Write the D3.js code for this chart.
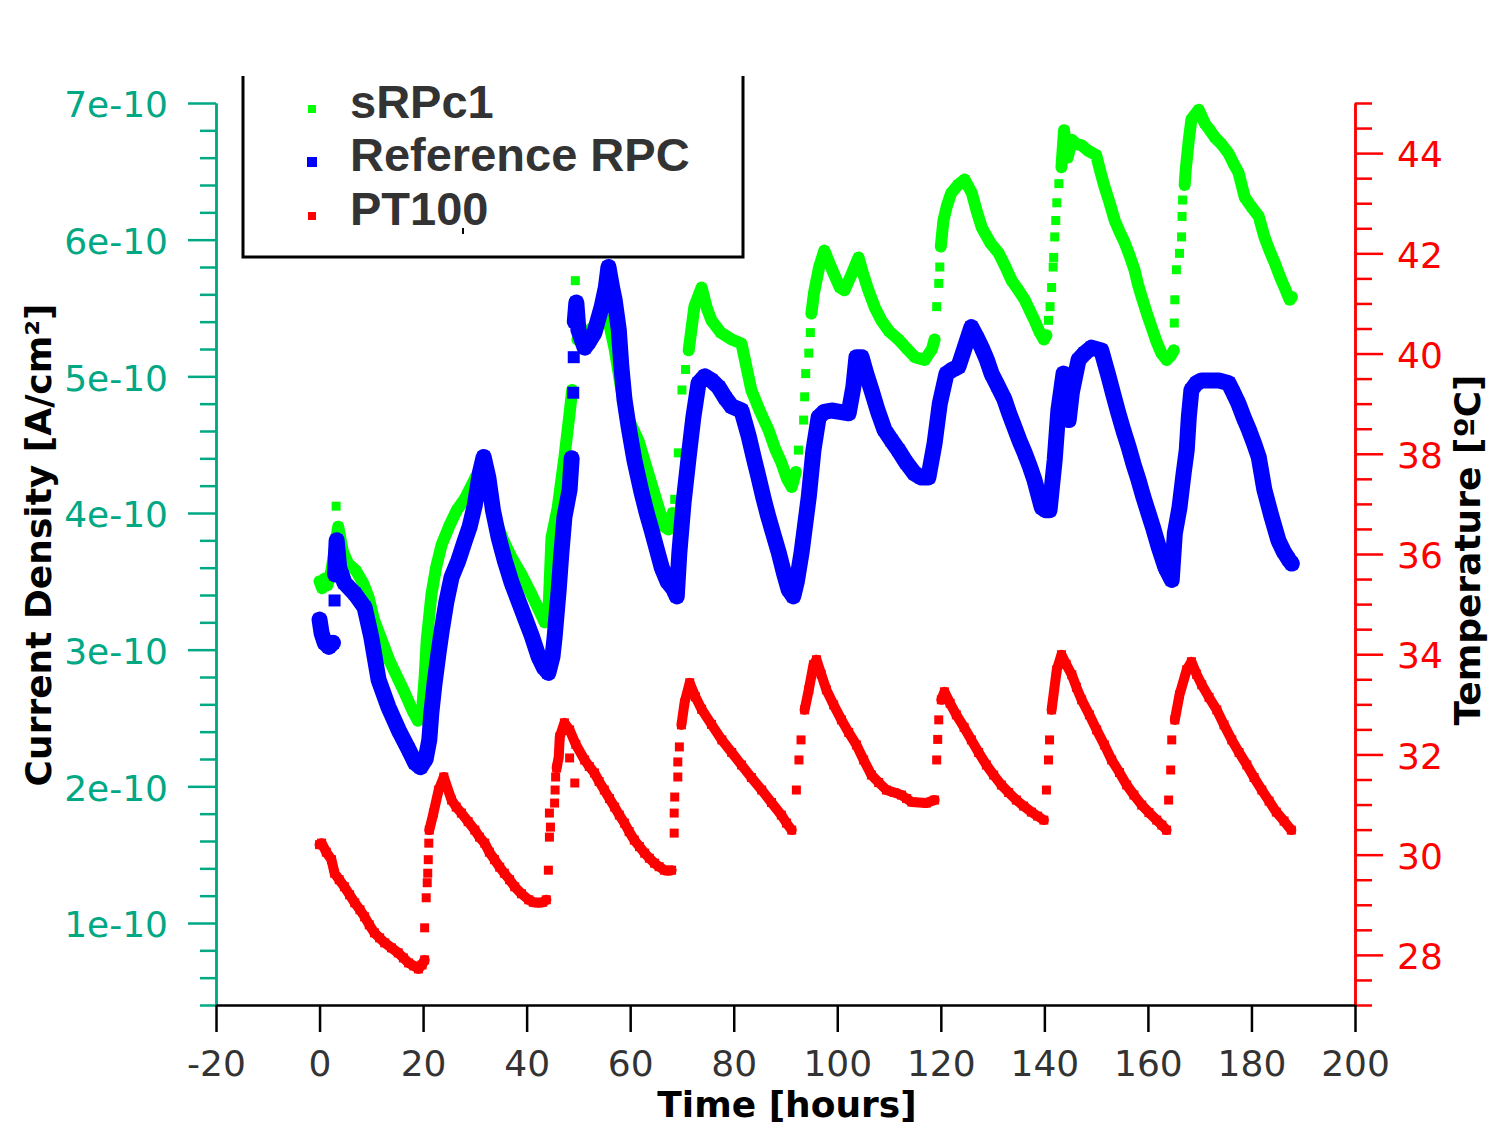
<!DOCTYPE html>
<html>
<head>
<meta charset="utf-8">
<script src="https://cdn.jsdelivr.net/npm/d3@7"></script>
<style>
    body { margin: 0; background: white; }
</style>
</head>
<body>
<div id="paper"></div>
<script>

// tick labels.

const time_ticks = [-20, 0, 20, 40, 60, 80, 100, 120, 140, 160, 180, 200]
const current_ticks = [1e-10, 2e-10, 3e-10, 4e-10, 5e-10, 6e-10, 7e-10]
const temperature_ticks = [28, 30, 32, 34, 36, 38, 40, 42, 44]

const series_names = ["sRPc1", "Reference RPC", "PT100"]

// sRPc1 current density, [hours, units of 1e-10 A/cm2]. null = gap in the band.

const srpc1_band = [
    [0,3.50],[0.5,3.45],[1,3.52],[1.5,3.47],[2.3,3.58],[3.6,3.90],[4.5,3.72],[5.5,3.63],[7,3.58],[8.5,3.48],[9.5,3.38],[10.5,3.22],
    [12,3.07],[13.5,2.92],[15,2.80],[16.5,2.68],[18,2.55],[19,2.48],[19.8,2.55],[20.3,2.80],[20.7,3.07],[21.2,3.25],[21.6,3.40],
    [22.5,3.60],[23.6,3.77],[25,3.90],[26.5,4.02],[28,4.10],[30,4.25],[31.5,4.35],[32.5,4.20],[34,3.95],[35.5,3.80],[37,3.68],
    [39,3.55],[41,3.40],[42.5,3.28],[43.5,3.20],[44.3,3.35],[44.8,3.82],[46,4.04],[47.3,4.41],[48.3,4.73],[48.8,4.90],null,
    [49.8,5.27],[51,5.30],[52.5,5.35],[54,5.38],[55.8,5.41],[57,5.20],[58.3,4.90],[59.5,4.70],[61.6,4.53],[63.5,4.29],[65,4.10],
    [66.6,3.90],[67.4,3.88],[68.2,4.00],null,
    [71.3,5.19],[72.4,5.51],[73.8,5.65],[74.8,5.50],[75.7,5.41],[77.5,5.32],[79.6,5.27],[81.5,5.24],[83.4,4.90],[85,4.75],[86.7,4.61],
    [88,4.47],[89.2,4.37],[90.3,4.25],[91.2,4.19],[92,4.30],null,
    [95,5.46],[95.5,5.61],[96.5,5.80],[97.5,5.92],[99,5.78],[100.5,5.65],[101.4,5.63],[102.8,5.75],[104.1,5.87],[105,5.75],[106,5.63],
    [107.3,5.50],[108.5,5.41],[110,5.33],[111.8,5.27],[113.5,5.20],[115,5.14],[116.9,5.12],[118.3,5.20],[118.8,5.27],null,
    [120,5.95],[120.5,6.14],[121.2,6.25],[122,6.34],[123.3,6.40],[124.6,6.44],[126,6.34],[127,6.20],[127.9,6.09],[129.5,5.98],
    [131.2,5.90],[132.5,5.80],[133.7,5.70],[135,5.63],[136.2,5.56],[137.2,5.48],[138.1,5.41],[139,5.33],[139.9,5.27],[140.4,5.30],null,
    [143.3,6.53],[143.8,6.80],[144.5,6.60],[145.3,6.73],[146.2,6.70],[147.2,6.69],[148.5,6.65],[150,6.62],[150.8,6.50],[151.6,6.39],
    [152.6,6.27],[153.6,6.14],[154.5,6.06],[155.5,5.98],[156.5,5.88],[157.4,5.78],[158.1,5.67],[158.8,5.58],[159.8,5.46],[160.7,5.36],
    [161.6,5.26],[162.6,5.17],[163.6,5.12],[164.4,5.15],[165,5.19],null,
    [167.1,6.40],[167.3,6.51],[167.9,6.73],[168.4,6.88],[169.8,6.95],[171,6.85],[172,6.80],[172.9,6.75],[174.2,6.70],[175.6,6.63],
    [176.5,6.56],[177.5,6.49],[178.7,6.31],[180,6.24],[181.4,6.17],[182.5,6.02],[183.5,5.92],[184.5,5.83],[185.5,5.73],[186.4,5.65],
    [187.4,5.56],[187.8,5.58]
]

// sRPc1 readings on the fast rises, drawn as single dots.

const srpc1_rise = [
    [3.2,4.05],[49.4,5.70],[68.6,4.10],[69.3,4.44],[70,4.90],[70.7,5.05],[92.5,4.46],[93.5,4.68],[93.7,4.85],[93.9,5.02],[94.5,5.17],
    [94.8,5.32],[119.2,5.51],[119.6,5.68],[119.8,5.80],[140.8,5.41],[141.1,5.51],[141.4,5.65],[141.7,5.80],[141.8,5.87],[142,6.02],
    [142.2,6.14],[142.4,6.27],[142.8,6.41],[165.1,5.39],[165.2,5.56],[165.5,5.78],[166.1,5.90],[166.5,6.02],[166.6,6.17],[166.7,6.29]
]

// Reference RPC current density, [hours, units of 1e-10 A/cm2].

const reference_band = [
    [0,3.22],[0.4,3.12],[1,3.05],[1.8,3.02],[2.6,3.05],null,
    [3.0,3.55],[3.3,3.80],[3.8,3.60],[4.8,3.49],[6.8,3.41],[8.7,3.31],[10,3.09],[11.4,2.78],[13.3,2.58],[15.3,2.41],[17.2,2.27],
    [18.5,2.17],[19.5,2.14],[20.5,2.20],[21.2,2.34],[21.6,2.54],[22.2,2.75],[23,2.98],[23.6,3.14],[24.5,3.35],[25.5,3.53],[26.8,3.65],
    [28,3.79],[29,3.90],[30,4.06],[31,4.30],[31.7,4.41],[32.6,4.26],[33.5,4.02],[34.6,3.82],[35.8,3.65],[37.1,3.49],[38.4,3.36],
    [39.6,3.24],[41,3.10],[42.3,2.95],[43.3,2.87],[44.2,2.83],[45,2.95],[45.4,3.09],[46.2,3.44],[46.7,3.70],[47.3,3.97],[48.3,4.17],
    [48.7,4.40],null,
    [49.3,5.40],[49.6,5.54],[50,5.34],[51.2,5.21],[52,5.25],[53.1,5.32],[54.5,5.51],[55.3,5.65],[55.8,5.80],[56.5,5.65],[57,5.56],
    [57.8,5.34],[58.3,5.07],[58.9,4.83],[59.7,4.63],[60.8,4.39],[62.2,4.15],[63.2,4.00],[64.1,3.88],[65.1,3.74],[66.1,3.60],[67.2,3.50],
    [68.4,3.44],[69,3.39],[69.5,3.71],[70.3,4.07],[71.3,4.41],[72.2,4.70],[73.2,4.95],[74.4,5.00],[75.7,4.97],[77.1,4.92],[78.4,4.84],
    [79.6,4.78],[81.5,4.75],[82.9,4.56],[83.9,4.40],[84.8,4.26],[85.8,4.10],[86.7,3.97],[87.7,3.84],[88.7,3.71],[89.7,3.56],[90.6,3.44],
    [91.5,3.39],[92.2,3.50],[93.1,3.71],[94.5,4.12],[95.4,4.46],[96.4,4.70],[97.5,4.74],[98.9,4.75],[100.5,4.74],[102.2,4.73],
    [103.1,4.92],[103.7,5.14],[104.7,5.14],[105.6,5.02],[106.6,4.90],[107.8,4.75],[109.1,4.61],[110.5,4.53],[111.8,4.46],[113.3,4.37],
    [114.9,4.29],[116.2,4.26],[117.6,4.26],[118.8,4.51],[119.8,4.80],[121.1,5.02],[122.3,5.05],[123.4,5.07],[124.7,5.22],[125.9,5.36],
    [127,5.28],[127.9,5.21],[128.9,5.12],[129.8,5.02],[131,4.93],[132.3,4.83],[133.2,4.73],[134.2,4.63],[135.2,4.53],[136.2,4.44],
    [137.2,4.34],[138.1,4.24],[138.8,4.14],[139.5,4.04],[140.3,4.02],[141,4.02],[142,4.39],[142.7,4.75],[143.7,5.02],[144.2,4.80],
    [144.7,4.68],[145.3,4.88],[146.6,5.12],[147.8,5.17],[149.1,5.21],[151,5.19],[152.4,5.00],[153.3,4.87],[154.3,4.73],[155.3,4.60],
    [156.3,4.48],[157.2,4.36],[158.2,4.24],[159.1,4.12],[160.1,4.00],[161.1,3.88],[162.1,3.75],[163.4,3.60],[164.6,3.51],[165.2,3.85],
    [166.1,4.04],[166.9,4.29],[167.5,4.46],[167.9,4.70],[168.4,4.90],[169.4,4.95],[170.4,4.97],[172,4.97],[173.7,4.97],[175.6,4.95],
    [176.5,4.88],[177.5,4.80],[178.5,4.70],[179.5,4.61],[180.5,4.51],[181.4,4.41],[182.5,4.17],[183.2,4.07],[183.9,3.97],[185.2,3.80],
    [186.2,3.72],[187.2,3.66],[187.8,3.63]
]

const reference_rise = [[2.9,3.36],[49.0,4.88],[49.1,5.14]]

// PT100 temperature, [hours, degrees C].

const pt100_band = [
    [0,30.20],[0.4,30.23],[1.3,30.05],[2.3,29.90],[2.9,29.63],[3.8,29.50],[4.8,29.36],[5.8,29.20],[6.8,29.04],[7.8,28.90],[8.7,28.76],
    [9.6,28.60],[10.6,28.44],[11.6,28.34],[12.6,28.24],[13.9,28.14],[15.2,28.04],[16.2,27.94],[17.2,27.84],[18.2,27.78],[19.1,27.72],
    [19.8,27.80],[20.3,27.90],null,
    [21.2,30.49],[22,30.83],[23,31.29],[24,31.55],[25.5,31.09],[26.4,30.95],[27.4,30.83],[28.7,30.66],[30,30.49],[30.9,30.35],
    [31.9,30.23],[32.8,30.05],[33.8,29.90],[34.8,29.75],[35.7,29.63],[36.7,29.50],[37.7,29.36],[39,29.22],[40.4,29.10],[41.3,29.05],
    [42.3,29.04],[43.1,29.05],[43.8,29.10],null,
    [45.8,31.73],[46.2,31.95],[46.4,32.35],[47.3,32.63],[48.3,32.49],[49.5,32.20],[51.2,31.89],[52.1,31.76],[53.1,31.63],[54,31.46],
    [55,31.29],[56,31.12],[57,30.95],[57.9,30.79],[58.9,30.63],[59.8,30.46],[60.8,30.29],[61.8,30.16],[62.8,30.03],[63.7,29.93],
    [64.7,29.83],[65.6,29.76],[66.6,29.69],[67.3,29.68],[68,29.69],null,
    [69.9,32.59],[70.5,33.03],[71.5,33.43],[72.6,33.15],[73.8,32.90],[75.7,32.60],[77.7,32.29],[79.6,32.04],[81.5,31.79],[83.4,31.54],
    [85.4,31.29],[87.3,31.04],[89.2,30.79],[90.2,30.63],[91.2,30.49],null,
    [93.7,32.89],[94.5,33.29],[95.4,33.79],[96,33.89],[96.9,33.60],[97.9,33.29],[99.3,32.99],[100.8,32.69],[102.2,32.44],[103.7,32.19],
    [105.1,31.89],[106.6,31.59],[108,31.44],[109.5,31.29],[111,31.24],[112.4,31.19],[113.4,31.12],[114.4,31.05],[115.8,31.04],
    [117.2,31.03],[118.8,31.09],null,
    [120.1,33.09],[120.7,33.25],[121.8,33.02],[123,32.79],[124.5,32.54],[125.9,32.29],[127.3,32.04],[128.8,31.79],[130.2,31.59],
    [131.7,31.39],[133.1,31.24],[134.6,31.09],[136,30.97],[137.5,30.85],[138.7,30.77],[139.9,30.69],null,
    [141.4,32.89],[142.4,33.69],[143.3,33.99],[144.2,33.80],[145.3,33.59],[146.2,33.34],[147.2,33.09],[148.7,32.79],[150.1,32.49],
    [151.6,32.19],[153,31.89],[154.5,31.64],[155.9,31.39],[157.3,31.19],[158.8,30.99],[160.2,30.84],[161.7,30.69],[162.7,30.59],
    [163.6,30.49],null,
    [165.2,32.69],[166.1,33.19],[167.5,33.69],[168.4,33.85],[169.4,33.60],[170.4,33.39],[171.8,33.14],[173.3,32.89],[174.7,32.59],
    [176.2,32.29],[177.6,32.04],[179.1,31.79],[180.5,31.54],[182,31.29],[183.4,31.07],[184.8,30.85],[186.3,30.67],[187.7,30.49]
]

const pt100_rise = [
    [20.3,28.54],[20.6,29.14],[20.8,29.44],[20.9,29.63],[21,29.90],[21.1,30.23],[44.2,29.69],[44.4,30.35],[44.6,30.55],[44.4,30.83],
    [45.4,31.03],[45.5,31.29],[45.6,31.55],[48.3,31.93],[49.3,31.43],[68.5,30.43],[68.5,30.83],[68.6,31.15],[69.2,31.55],[69.2,31.85],
    [69.5,32.15],[92.1,31.29],[92.6,31.89],[93,32.29],[119.2,31.89],[119.4,32.30],[119.6,32.69],[140.4,31.29],[140.8,31.89],
    [141,32.29],[164,31.09],[164.4,31.69],[164.6,32.29]
]

const teal = "#00a884"

// SVG canvas.

const canvas = d3.select("#paper")
    .append("svg")
    .attr("id", "canvas")
    .attr("width", 1509)
    .attr("height", 1148)
    .style("background-color", "white")

// scales.

const x = d3.scaleLinear().domain([-20, 200]).range([216, 1355])
const y_current = d3.scaleLinear().domain([0.4e-10, 7e-10]).range([1005, 103])
const y_temp = d3.scaleLinear().domain([27, 45]).range([1005, 103])

// axes.

function style_axis(g, colour, text_colour) {
    g.attr("color", colour)
        .attr("font-family", "DejaVu Sans")
        .attr("font-size", 36)
    g.selectAll(".domain").attr("stroke-width", 2.5)
    g.selectAll(".tick line").attr("stroke-width", 2.5)
    g.selectAll(".tick text").attr("fill", text_colour)
}

const current_minor = d3.range(4, 71, 2).filter(d => d % 10 != 0).map(d => d * 1e-11)
const temp_minor = d3.range(54, 91, 1).filter(d => d % 4 != 0).map(d => d / 2)

canvas.append("g")
    .attr("transform", "translate(216,0)")
    .call(d3.axisLeft(y_current).tickValues(current_minor).tickSize(16).tickSizeOuter(0).tickFormat(""))
    .call(g => style_axis(g, teal, teal))

canvas.append("g")
    .attr("transform", "translate(216,0)")
    .call(d3.axisLeft(y_current).tickValues(current_ticks).tickSize(28).tickSizeOuter(0).tickPadding(20)
        .tickFormat(d => Math.round(d / 1e-10) + "e-10"))
    .call(g => style_axis(g, teal, teal))
    .call(g => g.selectAll(".tick text").attr("dy", "0.38em"))

canvas.append("g")
    .attr("transform", "translate(1355,0)")
    .call(d3.axisRight(y_temp).tickValues(temp_minor).tickSize(17).tickSizeOuter(0).tickFormat(""))
    .call(g => style_axis(g, "#ff0000", "#ff0000"))

canvas.append("g")
    .attr("transform", "translate(1355,0)")
    .call(d3.axisRight(y_temp).tickValues(temperature_ticks).tickSize(28).tickSizeOuter(0).tickPadding(14)
        .tickFormat(d => String(d)))
    .call(g => style_axis(g, "#ff0000", "#ff0000"))
    .call(g => g.selectAll(".tick text").attr("dy", "0.38em"))

canvas.append("g")
    .attr("transform", "translate(0,1005)")
    .call(d3.axisBottom(x).tickValues(time_ticks).tickSize(27).tickSizeOuter(0).tickPadding(18)
        .tickFormat(d => String(d)))
    .call(g => style_axis(g, "#000000", "#333333"))

// axis titles.

canvas.append("text")
    .attr("transform", "translate(51,545) rotate(-90)")
    .attr("text-anchor", "middle")
    .style("font-family", "DejaVu Sans")
    .style("font-weight", "bold")
    .style("font-size", "36px")
    .text("Current Density [A/cm²]")

canvas.append("text")
    .attr("transform", "translate(1480,550) rotate(-90)")
    .attr("text-anchor", "middle")
    .style("font-family", "DejaVu Sans")
    .style("font-weight", "bold")
    .style("font-size", "36px")
    .text("Temperature [ºC]")

canvas.append("text")
    .attr("x", 787)
    .attr("y", 1117)
    .attr("text-anchor", "middle")
    .style("font-family", "DejaVu Sans")
    .style("font-weight", "bold")
    .style("font-size", "36px")
    .text("Time [hours]")

// draw a series: dense band as a thick line with dots, fast rises as single dots.

function draw_series(band, rise, y_scale, factor, colour, width, dot) {

    let line = d3.line()
        .defined(d => d !== null)
        .x(d => x(d[0]))
        .y(d => y_scale(d[1] * factor))

    canvas.append("path")
        .attr("d", line(band))
        .attr("fill", "none")
        .attr("stroke", colour)
        .attr("stroke-width", width)
        .attr("stroke-linejoin", "round")
        .attr("stroke-linecap", "round")

    canvas.append("g")
        .selectAll("rect")
        .data(band.filter(d => d !== null).concat(rise))
        .join("rect")
        .attr("x", d => x(d[0]) - dot / 2)
        .attr("y", d => y_scale(d[1] * factor) - dot / 2)
        .attr("width", dot)
        .attr("height", dot)
        .style("fill", colour)
}

draw_series(srpc1_band, srpc1_rise, y_current, 1e-10, "#00ff00", 12, 9)
draw_series(reference_band, reference_rise, y_current, 1e-10, "#0000ff", 16, 12)
draw_series(pt100_band, pt100_rise, y_temp, 1, "#ff0000", 10, 9)

// legend.

canvas.append("rect")
    .attr("x", 243).attr("y", 60).attr("width", 500).attr("height", 197)
    .style("fill", "white")

canvas.append("path")
    .attr("d", "M243,76V257H743V76")
    .attr("fill", "none")
    .attr("stroke", "black")
    .attr("stroke-width", 3)

const legend_colours = ["#00ff00", "#0000ff", "#ff0000"]
const legend_sizes = [8, 10, 8]
const legend_baselines = [118, 171, 225]

canvas.selectAll(".legend_dot")
    .data(series_names)
    .join("rect")
    .attr("class", "legend_dot")
    .attr("x", (d, i) => 312 - legend_sizes[i] / 2)
    .attr("y", (d, i) => legend_baselines[i] - 9 - legend_sizes[i] / 2)
    .attr("width", (d, i) => legend_sizes[i])
    .attr("height", (d, i) => legend_sizes[i])
    .style("fill", (d, i) => legend_colours[i])

canvas.selectAll(".legend_text")
    .data(series_names)
    .join("text")
    .attr("class", "legend_text")
    .attr("x", 350)
    .attr("y", (d, i) => legend_baselines[i])
    .style("font-family", "Liberation Sans")
    .style("font-weight", "bold")
    .style("font-size", "47px")
    .style("fill", "#333333")
    .text(d => d)

canvas.append("rect")
    .attr("x", 462).attr("y", 228).attr("width", 2).attr("height", 6)
    .style("fill", "black")

</script>
</body>
</html>
